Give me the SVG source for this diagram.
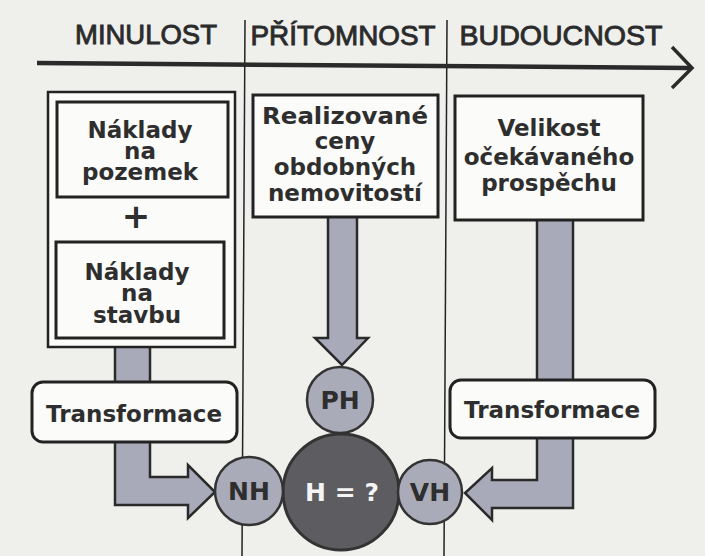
<svg xmlns="http://www.w3.org/2000/svg" width="705" height="556" viewBox="0 0 705 556">
<style>
.hdr{font-family:"Liberation Sans",Arial,sans-serif;font-size:28px;fill:#2b2b2b;stroke:#2b2b2b;stroke-width:0.9;text-anchor:middle}
.t{font-family:"DejaVu Sans",sans-serif;font-weight:bold;font-size:23px;fill:#2e2e2e;text-anchor:middle}
.box{fill:#fbfbfa;stroke:#222;stroke-width:3}
.outer{fill:#fbfbfa;stroke:#222;stroke-width:2.5}
.conn{fill:#a9aab9;stroke:#2a2a2a;stroke-width:2.5;stroke-linejoin:miter}
.sc{fill:#a9abb9;stroke:#333;stroke-width:2.5}
.bc{fill:#5c5c61;stroke:#333;stroke-width:3}
.div{stroke:#222;stroke-width:1.5}
</style>
<rect width="705" height="556" fill="#efefec"/>

<g id="dividers">
<line class="div" x1="245" y1="20" x2="242" y2="556"/>
<line class="div" x1="447" y1="20" x2="444" y2="556"/>
</g>

<g id="timeline">
<line x1="37" y1="63" x2="690" y2="68" stroke="#2a2a2a" stroke-width="4.5"/>
<polyline points="672,47 692,68 672,88" fill="none" stroke="#2a2a2a" stroke-width="3.5"/>
</g>

<g id="headers">
<text class="hdr" x="146" y="44" textLength="142" lengthAdjust="spacingAndGlyphs">MINULOST</text>
<text class="hdr" x="343" y="45" textLength="185" lengthAdjust="spacingAndGlyphs">PŘÍTOMNOST</text>
<text class="hdr" x="561" y="45" textLength="203" lengthAdjust="spacingAndGlyphs">BUDOUCNOST</text>
</g>

<g id="connectors">
<rect class="conn" x="115" y="345" width="35" height="39"/>
<polygon class="conn" points="115,440 150,440 150,477 188,477 188,465 215,492 188,518 188,505 115,505"/>
<polygon class="conn" points="328,215 357,215 357,338 368,338 342,365 315,338 328,338"/>
<rect class="conn" x="537" y="218" width="36" height="164"/>
<polygon class="conn" points="537,436 573,436 573,508 492,508 492,520 465,493 492,468 492,480 537,480"/>
</g>

<g id="minulost">
<rect class="outer" x="48" y="92" width="187" height="255"/>
<g id="naklady-pozemek">
<rect class="box" x="57" y="102" width="171" height="95"/>
<text class="t" x="140" y="138">Náklady</text>
<text class="t" x="140" y="159">na</text>
<text class="t" x="140" y="180">pozemek</text>
</g>
<text class="t" x="136" y="228" style="font-size:34px">+</text>
<g id="naklady-stavbu">
<rect class="box" x="56" y="242" width="168" height="96"/>
<text class="t" x="137" y="280">Náklady</text>
<text class="t" x="137" y="301">na</text>
<text class="t" x="137" y="323">stavbu</text>
</g>
</g>

<g id="transformace-left">
<rect class="box" x="32" y="382" width="205" height="60" rx="11"/>
<text class="t" x="134" y="422">Transformace</text>
</g>

<g id="realizovane">
<rect class="box" x="253" y="95" width="185" height="122"/>
<text class="t" x="345" y="124" textLength="166" lengthAdjust="spacingAndGlyphs">Realizované</text>
<text class="t" x="345" y="149">ceny</text>
<text class="t" x="345" y="175">obdobných</text>
<text class="t" x="345" y="201">nemovitostí</text>
</g>

<g id="velikost">
<rect class="box" x="455" y="96" width="188" height="124"/>
<text class="t" x="549" y="136">Velikost</text>
<text class="t" x="549" y="165">očekávaného</text>
<text class="t" x="549" y="191">prospěchu</text>
</g>

<g id="transformace-right">
<rect class="box" x="450" y="380" width="205" height="58" rx="11"/>
<text class="t" x="552" y="418">Transformace</text>
</g>

<g id="ph">
<circle class="sc" cx="340" cy="400" r="33"/>
<text class="t" x="340" y="409" style="font-size:25px">PH</text>
</g>
<g id="h">
<circle class="bc" cx="341" cy="492" r="58"/>
<text class="t" x="342" y="501" style="font-size:25px;fill:#f4f4f4">H = ?</text>
</g>
<g id="nh">
<circle class="sc" cx="249" cy="491" r="34"/>
<text class="t" x="249" y="500" style="font-size:25px">NH</text>
</g>
<g id="vh">
<circle class="sc" cx="430" cy="492" r="32"/>
<text class="t" x="430" y="501" style="font-size:25px">VH</text>
</g>
</svg>
